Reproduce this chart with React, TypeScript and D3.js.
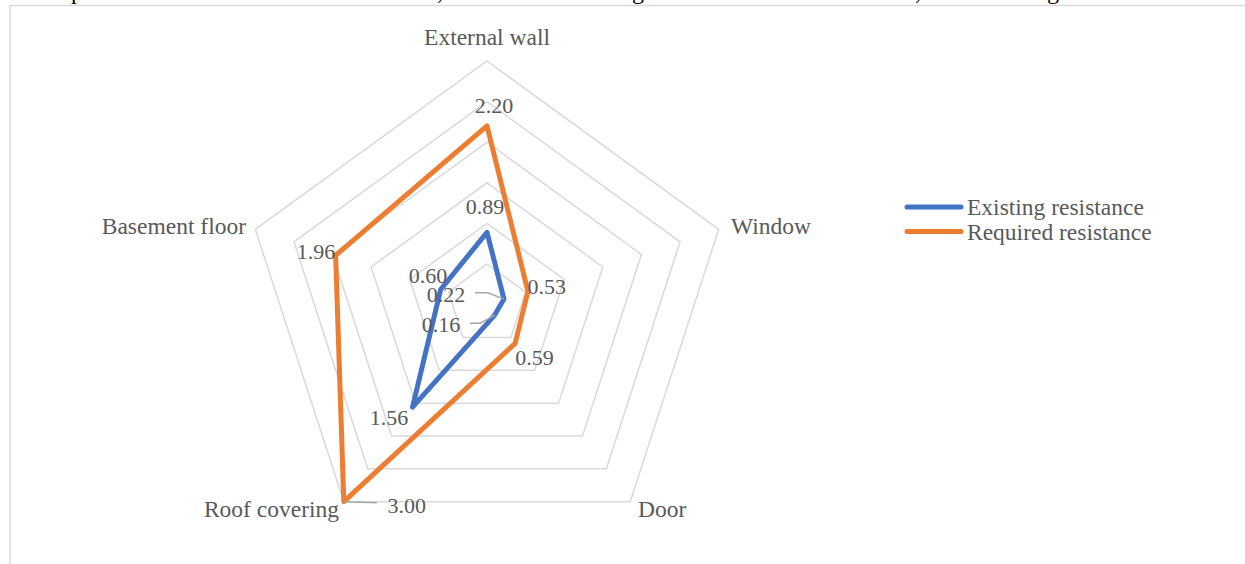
import React from "react";
import * as d3 from "d3";

// Thermal resistance by building element
const categories = ["External wall", "Window", "Door", "Roof covering", "Basement floor"];
const existingResistance = [0.89, 0.22, 0.16, 1.56, 0.6];
const requiredResistance = [2.2, 0.53, 0.59, 3.0, 1.96];
const gridLevels = [0.5, 1, 1.5, 2, 2.5, 3];
const seriesNames = ["Existing resistance", "Required resistance"];

const W = 1245;
const H = 564;
const CX = 487;
const CY = 304.6;
const R = 243.6;
const BLUE = "#4472C4";
const ORANGE = "#ED7D31";
const GRID = "#D9D9D9";
const TEXT = "#595959";
const FONT = "'Liberation Serif', 'Times New Roman', serif";

const r = d3.scaleLinear().domain([0, 3]).range([0, R]);
const angle = d3
  .scalePoint<string>()
  .domain(categories)
  .range([0, (2 * Math.PI * (categories.length - 1)) / categories.length]);

const pt = (cat: string, v: number): [number, number] => {
  const a = angle(cat)!;
  return [CX + r(v) * Math.sin(a), CY - r(v) * Math.cos(a)];
};

const radial = d3
  .lineRadial<number>()
  .angle((_, i) => angle(categories[i])!)
  .radius((d) => r(d))
  .curve(d3.curveLinearClosed);

// label offsets (center x, baseline y) relative to each data point
const existingOffsets: [number, number][] = [
  [-2, -18],
  [-58, 2.6],
  [-53.6, 17.2],
  [-23.5, 18],
  [-12.7, -6.3],
];
const requiredOffsets: [number, number][] = [
  [7, -13],
  [18.8, 3],
  [19.3, 21.6],
  [63, 11.6],
  [-19.6, 3.6],
];

// category label anchors: [x, baseline, anchor]
const catLabelPos: [number, number, "start" | "middle" | "end"][] = [
  [487, 45, "middle"],
  [731, 234, "start"],
  [638, 517, "start"],
  [339, 517, "end"],
  [246, 234, "end"],
];

export default function App() {
  const series = [
    { name: seriesNames[0], values: existingResistance, color: BLUE, offsets: existingOffsets },
    { name: seriesNames[1], values: requiredResistance, color: ORANGE, offsets: requiredOffsets },
  ];

  const ringPath = (lv: number) =>
    categories.map((c, i) => (i === 0 ? "M" : "L") + pt(c, lv).join(",")).join("") + "Z";

  return (
    <svg
      width={W}
      height={H}
      style={{ position: "absolute", left: 0, top: 0, background: "#fff" }}
      fontFamily={FONT}
    >
      {/* tail of the preceding text line, cut by the page edge */}
      <g fill="#000" fontSize={24}>
        <text x={71} y={-1}>p</text>
        <text x={437} y={-1}>,</text>
        <text x={632} y={-1}>g</text>
        <text x={915} y={-1}>,</text>
        <text x={1047} y={-1}>g</text>
      </g>

      {/* chart frame */}
      <path d={`M10,${H} L10,5.5 L${W},5.5`} fill="none" stroke={GRID} strokeWidth={1.5} />

      {/* grid rings */}
      <g fill="none" stroke={GRID} strokeWidth={1.5}>
        {gridLevels.map((lv) => (
          <path key={lv} d={ringPath(lv)} />
        ))}
      </g>

      {/* category labels */}
      <g fill={TEXT} fontSize={23.5}>
        {categories.map((c, i) => (
          <text key={c} x={catLabelPos[i][0]} y={catLabelPos[i][1]} textAnchor={catLabelPos[i][2]}>
            {c}
          </text>
        ))}
      </g>

      {/* series */}
      {series.map((s) => (
        <path
          key={s.name}
          d={radial(s.values) ?? ""}
          transform={`translate(${CX},${CY})`}
          fill="none"
          stroke={s.color}
          strokeWidth={5}
          strokeLinejoin="round"
        />
      ))}

      {/* leader lines for labels placed away from their points */}
      <g fill="none" stroke="#A6A6A6" strokeWidth={1.5}>
        {(() => {
          const [x1, y1] = pt(categories[1], existingResistance[1]);
          const [x2, y2] = pt(categories[2], existingResistance[2]);
          const [x3, y3] = pt(categories[3], requiredResistance[3]);
          return (
            <>
              <path d={`M${x1 - 29},${y1 - 6.4} L${x1 - 16},${y1 - 6.4} L${x1},${y1}`} />
              <path d={`M${x2 - 24.6},${y2 + 8.2} L${x2 - 14.6},${y2 + 8.2} L${x2},${y2}`} />
              <path d={`M${x3},${y3} L${x3 + 33},${y3 + 1}`} />
            </>
          );
        })()}
      </g>

      {/* data labels */}
      <g fill={TEXT} fontSize={22} textAnchor="middle">
        {series.map((s) =>
          s.values.map((v, i) => {
            const [x, y] = pt(categories[i], v);
            return (
              <text key={s.name + i} x={x + s.offsets[i][0]} y={y + s.offsets[i][1]}>
                {v.toFixed(2)}
              </text>
            );
          })
        )}
      </g>

      {/* legend */}
      <g>
        {series.map((s, i) => (
          <g key={s.name}>
            <line
              x1={907}
              x2={961}
              y1={207 + i * 24.5}
              y2={207 + i * 24.5}
              stroke={s.color}
              strokeWidth={5}
              strokeLinecap="round"
            />
            <text x={967} y={215 + i * 24.5} fill={TEXT} fontSize={23.5}>
              {s.name}
            </text>
          </g>
        ))}
      </g>
    </svg>
  );
}
